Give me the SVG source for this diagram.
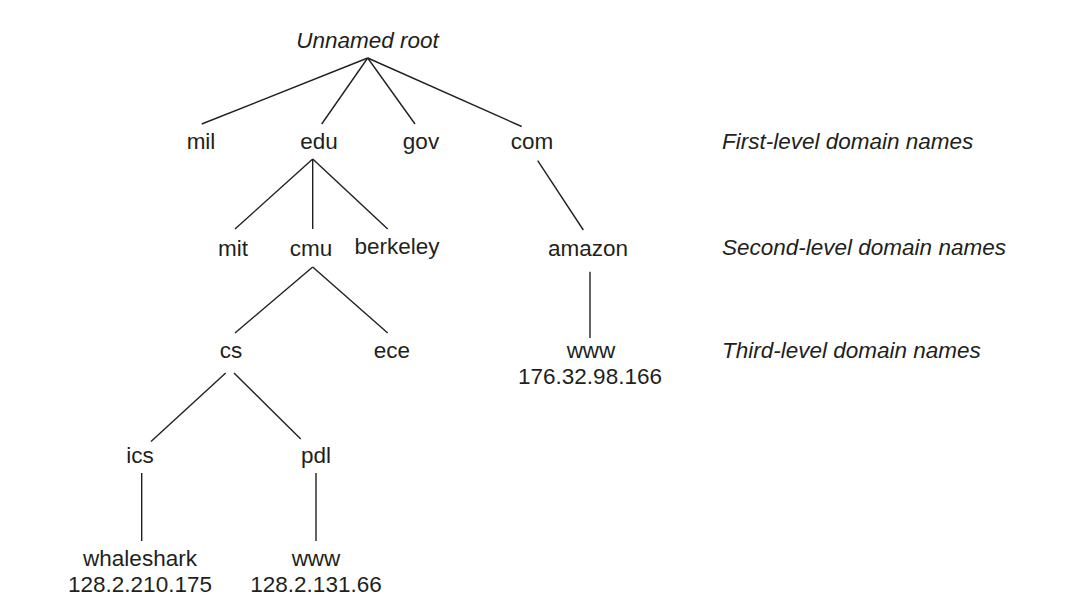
<svg xmlns="http://www.w3.org/2000/svg" width="1083" height="609" viewBox="0 0 1083 609">
<style>
text{font-family:"Liberation Sans",Arial,sans-serif;font-size:22.5px;fill:#231f20}
.n{text-anchor:middle}
.i{font-style:italic}
.c line{stroke:#231f20;stroke-width:1.4;fill:none}
</style>
<rect width="1083" height="609" fill="#fff"/>
<g class="c" id="connectors">
<line x1="367.7" y1="58" x2="201.7" y2="124"/>
<line x1="367.7" y1="58" x2="321.7" y2="124"/>
<line x1="367.7" y1="58" x2="415" y2="124"/>
<line x1="367.7" y1="58" x2="521.7" y2="126.5"/>
<line x1="312.7" y1="159" x2="235" y2="229"/>
<line x1="312.7" y1="159" x2="312.7" y2="229"/>
<line x1="312.7" y1="159" x2="387.7" y2="229"/>
<line x1="312.7" y1="267" x2="235" y2="333"/>
<line x1="312.7" y1="267" x2="387.7" y2="333"/>
<line x1="225.7" y1="373" x2="151" y2="441.5"/>
<line x1="234" y1="373" x2="300.7" y2="439"/>
<line x1="141.7" y1="473" x2="141.7" y2="541"/>
<line x1="316" y1="473" x2="316" y2="541"/>
<line x1="537.7" y1="160.7" x2="583.3" y2="230"/>
<line x1="590" y1="271.7" x2="590" y2="338"/>
</g>
<g id="root"><text class="n i" x="367.5" y="48">Unnamed root</text></g>
<g id="mil"><text class="n" x="201" y="149">mil</text></g>
<g id="edu"><text class="n" x="319" y="149">edu</text></g>
<g id="gov"><text class="n" x="421" y="149">gov</text></g>
<g id="com"><text class="n" x="532" y="149">com</text></g>
<g id="mit"><text class="n" x="233" y="256">mit</text></g>
<g id="cmu"><text class="n" x="311" y="256">cmu</text></g>
<g id="berkeley"><text class="n" x="397" y="254">berkeley</text></g>
<g id="amazon"><text class="n" x="588" y="256">amazon</text></g>
<g id="cs"><text class="n" x="231" y="358">cs</text></g>
<g id="ece"><text class="n" x="392" y="358">ece</text></g>
<g id="www-amazon"><text class="n" x="591" y="358">www</text><text class="n" x="590" y="384">176.32.98.166</text></g>
<g id="ics"><text class="n" x="140" y="463">ics</text></g>
<g id="pdl"><text class="n" x="316" y="463">pdl</text></g>
<g id="whaleshark"><text class="n" x="140" y="566">whaleshark</text><text class="n" x="140" y="592">128.2.210.175</text></g>
<g id="www-pdl"><text class="n" x="316" y="566">www</text><text class="n" x="316" y="592">128.2.131.66</text></g>
<g id="levels">
<text class="i" x="722" y="149">First-level domain names</text>
<text class="i" x="722" y="255">Second-level domain names</text>
<text class="i" x="722" y="358">Third-level domain names</text>
</g>
</svg>
